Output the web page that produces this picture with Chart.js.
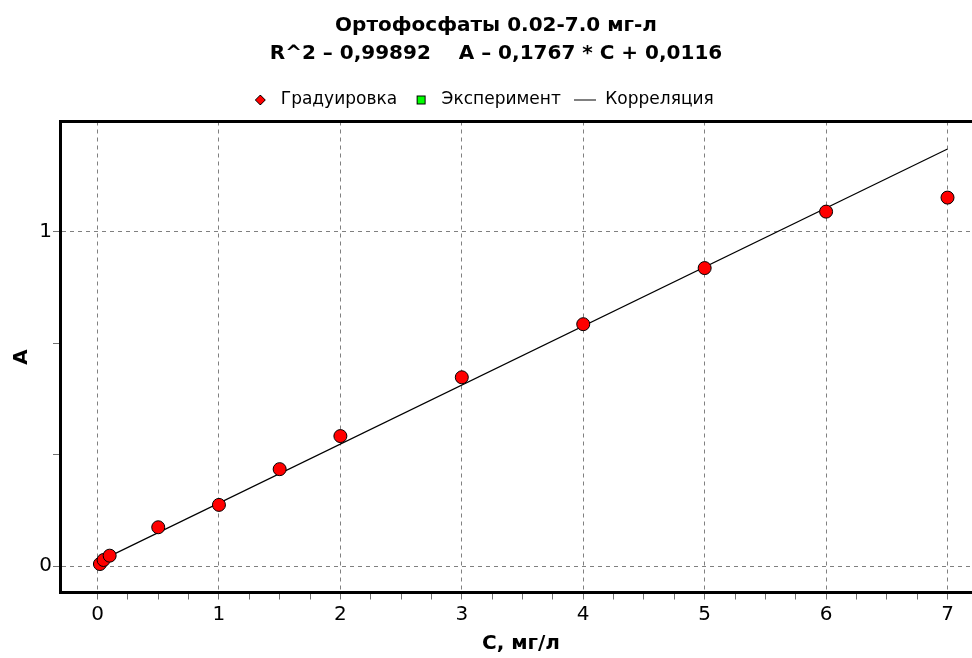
<!DOCTYPE html>
<html><head><meta charset="utf-8">
<script src="https://cdn.jsdelivr.net/npm/chart.js@4"></script>
<style>html,body{margin:0;padding:0;background:#fff;overflow:hidden;} #wrap{width:990px;height:658px;}</style>
</head><body><div id="wrap"><canvas id="c" width="990" height="658"></canvas></div>
<script>
const titleLines = ['Ортофосфаты 0.02-7.0 мг-л', 'R^2 – 0,99892    A – 0,1767 * C + 0,0116'];
const seriesNames = ['Градуировка', 'Эксперимент', 'Корреляция'];
const calibC = [0.02, 0.05, 0.1, 0.5, 1, 1.5, 2, 3, 4, 5, 6, 7];
const calibA = [0.006, 0.018, 0.031, 0.116, 0.183, 0.290, 0.389, 0.565, 0.724, 0.892, 1.061, 1.103];
const experimentC = [];
const experimentA = [];
const fitC = [0, 7];
const fitA = [0.0116, 1.2485];
const xTickValues = [0,0.25,0.5,0.75,1,1.25,1.5,1.75,2,2.25,2.5,2.75,3,3.25,3.5,3.75,4,4.25,4.5,4.75,5,5.25,5.5,5.75,6,6.25,6.5,6.75,7];
const xTickLabels = ['0','','','','1','','','','2','','','','3','','','','4','','','','5','','','','6','','','','7'];
const yTickValues = [0, 1/3, 2/3, 1];
const yTickLabels = ['0', '', '', '1'];
const xAxisTitle = 'C, мг/л';
const yAxisTitle = 'A';

const FONT = 'DejaVu Sans';
const X_MIN = -0.309, X_MAX = 7.284, Y_MIN = -0.0793, Y_MAX = 1.3308;

function marker(kind) {
  const c = document.createElement('canvas');
  const g = c.getContext('2d');
  if (kind === 'diamond') {
    c.width = 12; c.height = 12;
    g.beginPath(); g.moveTo(6, 1); g.lineTo(11, 6); g.lineTo(6, 11); g.lineTo(1, 6); g.closePath();
    g.fillStyle = '#ff0000'; g.fill(); g.strokeStyle = '#000'; g.lineWidth = 1; g.stroke();
  } else if (kind === 'square') {
    c.width = 11; c.height = 11;
    g.fillStyle = '#00ff00'; g.fillRect(1.5, 1.5, 8, 8);
    g.strokeStyle = '#000'; g.lineWidth = 1; g.strokeRect(1.5, 1.5, 8, 8);
  } else {
    c.width = 22; c.height = 3;
    g.strokeStyle = '#000'; g.lineWidth = 1; g.beginPath(); g.moveTo(0, 1.5); g.lineTo(22, 1.5); g.stroke();
  }
  return c;
}
const legendMarkers = [marker('diamond'), marker('square'), marker('line')];

const isMajorX = v => xTickLabels[xTickValues.indexOf(v)] !== '' ;
const isMajorY = v => yTickLabels[yTickValues.indexOf(v)] !== '';

const shiftBoxes = {
  id: 'shiftBoxes',
  afterLayout(chart) {
    if (chart.legend) { chart.legend.left -= 10; chart.legend.right -= 10; }
    if (chart.titleBlock) { chart.titleBlock.left += 5; chart.titleBlock.right += 5; }
  }
};

new Chart(document.getElementById('c'), {
  type: 'scatter',
  plugins: [shiftBoxes],
  data: {
    datasets: [
      {
        label: seriesNames[0],
        data: calibC.map((c, i) => ({x: c, y: calibA[i]})),
        pointStyle: 'circle', pointRadius: 6.5, pointHoverRadius: 6.5,
        backgroundColor: '#ff0000', borderColor: '#000', borderWidth: 1
      },
      {
        label: seriesNames[1],
        data: experimentC.map((c, i) => ({x: c, y: experimentA[i]})),
        pointStyle: 'rect', pointRadius: 6,
        backgroundColor: '#00ff00', borderColor: '#000', borderWidth: 1
      },
      {
        label: seriesNames[2],
        type: 'line',
        data: fitC.map((c, i) => ({x: c, y: fitA[i]})),
        showLine: true, pointRadius: 0, borderColor: '#000', borderWidth: 1.2, fill: false
      }
    ]
  },
  options: {
    responsive: false,
    animation: false,
    devicePixelRatio: 1,
    layout: { padding: { top: 0, left: 0, right: 8, bottom: 0 } },
    plugins: {
      tooltip: { enabled: false },
      title: {
        display: true, text: titleLines, color: '#000',
        font: { family: FONT, size: 20, weight: 'bold', lineHeight: '28px' },
        padding: { top: 12, bottom: 11.5 }
      },
      legend: {
        display: true, position: 'top',
        labels: {
          usePointStyle: true, pointStyleWidth: 24, boxHeight: 17, padding: 12,
          color: '#000', font: { family: FONT, size: 17 },
          generateLabels: chart => chart.data.datasets.map((ds, i) => ({
            text: ds.label, pointStyle: legendMarkers[i], fillStyle: 'rgba(0,0,0,0)',
            strokeStyle: 'rgba(0,0,0,0)', lineWidth: 0, hidden: false, datasetIndex: i, fontColor: '#000'
          }))
        }
      }
    },
    scales: {
      x: {
        type: 'linear', position: 'bottom', min: X_MIN, max: X_MAX,
        afterBuildTicks: s => { s.ticks = xTickValues.map(v => ({ value: v })); },
        afterFit: s => { s.height = 65.5; },
        ticks: {
          autoSkip: false, maxRotation: 0, padding: 3, color: '#000',
          font: { family: FONT, size: 20 },
          callback: (v, i) => xTickLabels[i]
        },
        grid: {
          color: ctx => (ctx.tick && isMajorX(ctx.tick.value)) ? '#808080' : 'rgba(0,0,0,0)',
          lineWidth: 1, drawTicks: true, tickLength: 7, tickColor: '#707070', tickWidth: 1
        },
        border: { display: true, color: '#000', width: 3, dash: [4, 4] },
        title: {
          display: true, text: xAxisTitle, color: '#000',
          font: { family: FONT, size: 20, weight: 'bold' },
          padding: { top: 0, bottom: 2 }
        }
      },
      xTop: {
        type: 'linear', position: 'top', min: X_MIN, max: X_MAX,
        afterFit: s => { s.height = 3; },
        ticks: { display: false },
        grid: { display: false, drawTicks: false },
        border: { display: true, color: '#000', width: 3 }
      },
      y: {
        type: 'linear', position: 'left', min: Y_MIN, max: Y_MAX,
        afterBuildTicks: s => { s.ticks = yTickValues.map(v => ({ value: v })); },
        afterFit: s => { s.width = 60; },
        ticks: {
          autoSkip: false, padding: 1, color: '#000',
          font: { family: FONT, size: 20 },
          callback: (v, i) => yTickLabels[i]
        },
        grid: {
          color: ctx => (ctx.tick && isMajorY(ctx.tick.value)) ? '#808080' : 'rgba(0,0,0,0)',
          lineWidth: 1, drawTicks: true, tickLength: 7, tickColor: '#707070', tickWidth: 1
        },
        border: { display: true, color: '#000', width: 3, dash: [4, 4] },
        title: {
          display: true, text: yAxisTitle, color: '#000',
          font: { family: FONT, size: 20, weight: 'bold' },
          padding: { top: 10, bottom: 0 }
        }
      }
    }
  }
});
</script>
</body></html>
